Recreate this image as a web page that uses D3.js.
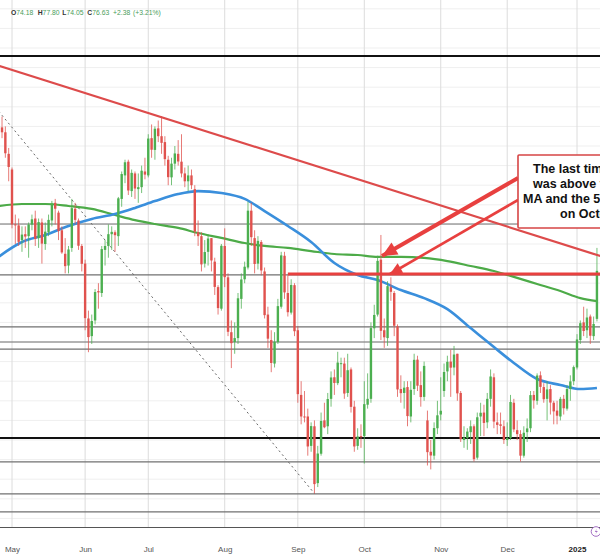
<!DOCTYPE html>
<html><head><meta charset="utf-8">
<script src="https://cdn.jsdelivr.net/npm/d3@7/dist/d3.min.js"></script>
<style>html,body{margin:0;padding:0;background:#fff;overflow:hidden}svg{display:block;font-family:"Liberation Sans",Arial,sans-serif}</style>
</head><body><svg id="c" width="600" height="560"></svg>
<script>
// ---------- DATA ----------
const firstDay = "2024-04-25", lastDay = "2025-01-10";
const holidays = ["2024-05-27","2024-06-19","2024-09-02","2024-11-28","2024-12-25","2025-01-01"];
// [open, high, low, close] per trading day
const ohlcApr = [[82.8,83.8,82.3,83.57],[83.95,84.5,83.4,83.7],[83.7,84.0,82.4,82.63],[82.6,82.9,81.2,81.93]];
const ohlcMay = [[81.8,81.9,78.8,79.0],[79.0,79.5,78.0,78.95],[78.95,79.3,77.9,78.11],[78.2,78.9,77.6,78.48],[78.5,78.9,77.8,78.38],[78.4,79.1,77.3,78.99],[78.99,79.5,78.7,79.26],[79.3,79.7,77.9,78.26],[78.3,79.3,77.8,79.12],[79.1,79.3,77.0,78.02],[78.0,79.1,77.7,78.63],[78.6,79.5,78.4,79.23],[79.2,80.2,78.9,80.06],[80.1,80.3,79.0,79.80],[79.6,79.7,78.2,78.66],[78.7,78.9,77.5,77.57],[77.5,78.3,76.5,76.87],[76.9,77.9,76.5,77.72],[77.8,80.3,77.6,79.83],[79.8,80.1,79.0,79.23],[79.2,79.3,77.7,77.91],[77.9,78.0,76.6,76.99]];
const ohlcJun = [[77.0,77.2,73.6,74.22],[74.2,74.6,72.48,73.25],[73.3,74.4,72.9,74.07],[74.1,75.7,73.9,75.55],[75.6,76.0,74.7,75.53],[75.5,77.9,75.3,77.74],[77.7,78.2,76.9,77.90],[77.9,79.0,77.3,78.50],[78.5,78.9,77.7,78.62],[78.6,78.7,77.6,78.45],[78.4,80.4,77.9,80.33],[80.3,81.7,79.9,81.57],[81.5,82.3,81.1,82.17],[82.2,82.3,80.5,80.73],[80.7,81.8,80.4,81.63],[81.6,81.7,80.3,80.83],[80.8,81.6,80.1,80.90],[80.9,82.0,80.6,81.74],[81.7,82.4,81.3,81.54]];
const ohlcJul = [[81.5,83.6,81.4,83.38],[83.4,84.1,82.4,82.81],[82.8,84.0,82.3,83.88],[83.9,84.3,83.2,83.50],[83.5,84.52,82.6,83.16],[83.2,83.5,82.0,82.33],[82.3,82.5,81.0,81.41],[81.4,82.4,81.0,82.10],[82.1,83.0,81.8,82.62],[82.6,83.3,82.0,82.21],[82.2,83.6,81.4,81.6],[81.6,81.9,80.9,81.2],[81.2,82.0,80.7,81.5],[81.5,81.8,80.8,81.0],[80.8,81.0,78.4,78.63],[78.6,79.2,77.9,78.40],[78.4,78.6,76.6,76.96],[77.0,78.2,76.8,77.59],[77.6,78.5,76.9,78.28],[78.3,78.3,76.6,77.16],[77.1,77.3,75.4,75.81],[75.8,75.9,74.4,74.73],[74.7,78.0,74.6,77.91]];
const ohlcAug = [[77.9,78.8,75.8,76.31],[76.3,76.5,73.3,73.52],[73.5,74.1,71.67,72.94],[73.0,74.0,72.4,73.20],[73.2,75.5,72.9,75.23],[75.2,76.5,74.7,76.19],[76.2,77.1,76.0,76.84],[76.8,80.15,76.7,79.70],[79.7,80.1,77.9,78.35],[78.3,78.7,76.5,76.98],[77.0,78.4,76.7,78.16],[78.1,78.2,76.4,76.65],[76.6,76.8,74.2,74.37],[74.4,74.8,72.7,73.17],[73.1,73.6,71.46,71.93],[71.9,73.5,71.7,73.01],[73.0,75.2,72.9,74.83],[74.8,77.6,74.7,77.42],[77.4,77.6,75.2,75.53],[75.5,76.4,74.3,74.52],[74.5,76.2,74.4,75.91],[75.9,76.0,73.3,73.55]];
const ohlcSep = [[73.6,73.8,69.9,70.34],[70.3,71.0,68.8,69.20],[69.2,70.5,68.9,69.15],[69.2,69.6,67.2,67.67],[67.7,68.9,67.4,68.71],[68.7,69.0,65.27,65.75],[65.8,67.7,65.6,67.31],[67.3,69.4,67.2,68.97],[69.0,69.9,68.6,68.65],[68.7,70.4,68.3,70.09],[70.1,71.5,69.7,71.19],[71.2,71.6,70.3,70.91],[70.9,72.5,70.8,71.95],[71.9,72.2,71.2,71.92],[71.9,72.2,70.1,70.37],[70.4,72.4,70.2,71.56],[71.6,71.7,69.4,69.69],[69.7,70.0,67.4,67.67],[67.7,68.6,67.5,68.18],[68.2,68.8,67.6,68.17]];
const ohlcOct = [[68.2,71.0,66.8,69.83],[69.8,71.4,69.6,70.10],[70.1,74.0,69.9,73.71],[73.7,74.9,73.2,74.38],[74.4,77.4,74.3,77.14],[77.2,78.46,73.1,73.57],[73.6,74.2,72.7,73.24],[73.2,76.1,72.8,75.85],[75.8,76.3,75.1,75.56],[75.5,75.6,73.3,73.83],[73.8,73.9,70.2,70.58],[70.6,71.3,69.9,70.39],[70.4,71.0,69.6,70.67],[70.7,71.0,68.7,69.22],[69.2,71.0,68.9,70.56],[70.6,72.4,70.3,72.09],[72.1,72.3,70.5,70.77],[70.8,71.5,69.7,70.19],[70.2,72.0,70.0,71.78],[69.0,69.5,66.7,67.38],[67.4,68.0,66.5,67.21],[67.2,68.9,67.0,68.61],[68.6,70.0,68.3,69.26]];
const ohlcNov = [[69.3,71.2,69.0,69.49],[70.5,71.9,70.2,71.47],[71.5,72.3,71.0,71.99],[72.0,72.6,70.2,71.69],[71.7,72.8,71.3,72.36],[72.4,72.4,70.0,70.38],[70.4,70.5,67.9,68.04],[68.0,68.7,67.6,68.12],[68.1,68.6,67.5,68.43],[68.4,69.0,67.8,68.70],[68.7,68.8,66.9,67.02],[67.1,69.4,67.0,69.16],[69.2,69.9,68.2,69.39],[69.4,69.8,68.2,68.87],[68.9,70.4,68.6,70.10],[70.1,71.6,69.7,71.24],[71.2,71.4,68.6,68.94],[68.9,69.4,68.3,68.77],[68.8,69.4,68.3,68.72],[68.7,69.0,67.8,68.00]];
const ohlcDec = [[68.0,68.9,67.7,68.10],[68.1,70.3,68.0,69.94],[69.9,70.1,68.4,68.54],[68.5,69.0,68.0,68.30],[68.3,68.5,66.9,67.20],[67.2,68.7,67.1,68.37],[68.4,69.1,67.9,68.59],[68.6,70.5,68.4,70.29],[70.3,70.5,69.6,70.02],[70.0,71.4,69.8,71.29],[71.3,71.5,70.4,70.71],[70.7,70.9,69.9,70.08],[70.1,71.0,69.0,70.58],[70.6,70.8,69.3,69.91],[69.9,70.0,68.8,69.46],[69.5,70.0,68.8,69.24],[69.2,70.2,69.0,70.10],[70.1,70.3,69.3,69.62],[69.6,70.8,69.5,70.60],[70.6,71.3,70.0,70.99],[71.0,71.8,70.8,71.72]];
const ohlcJan = [[71.7,73.4,71.6,73.13],[73.1,74.1,72.9,73.96],[74.0,74.8,73.3,73.56],[73.6,74.7,73.2,74.25],[74.3,74.4,72.9,73.32],[73.3,74.3,73.1,73.92],[74.18,77.80,74.05,76.63]];

// moving averages, sampled from the chart
const maDates = ["2024-04-25","2024-05-06","2024-05-15","2024-05-24","2024-06-05","2024-06-14","2024-06-25","2024-07-03","2024-07-12","2024-07-22","2024-07-31","2024-08-09","2024-08-19","2024-08-28","2024-09-09","2024-09-18","2024-09-27","2024-10-07","2024-10-16","2024-10-25","2024-11-05","2024-11-14","2024-11-25","2024-12-04","2024-12-13","2024-12-24","2025-01-03","2025-01-10"];
const ma100 = [77.35,78.1,78.46,78.92,79.28,79.53,79.84,80.19,80.55,80.70,80.60,80.30,79.68,78.92,78.10,77.03,76.42,76.16,75.65,75.24,74.68,73.71,72.74,71.93,71.11,70.81,70.60,70.65];
const ma200 = [79.94,80.04,80.04,79.94,79.79,79.48,79.22,79.02,78.82,78.56,78.31,78.05,77.90,77.80,77.64,77.49,77.44,77.34,77.34,77.29,77.13,76.88,76.62,76.32,75.96,75.60,75.24,75.09];

// drawn levels / lines
const levelsBlack = [87.59, 68.10];
const levelsGray = [79.02, 76.42, 73.77, 73.00, 72.64, 66.88, 65.25, 64.33];
const trendDates = ["2024-04-25","2025-01-10"], trendValues = [87.10, 77.44];
const dottedDates = ["2024-04-25","2024-09-10"], dottedValues = [84.77, 65.27];
const redLevelStart = "2024-08-28", redLevel = 76.47;
const header = [["O","74.18"],["H","77.80"],["L","74.05"],["C","76.63"],["","+2.38"],["","(+3.21%)"]];
const noteLines = ["The last time the price","was above the 200 day","MA and the 50% midpoint","on October 8"];

// ---------- BUILD ----------
const fmt = d3.utcFormat("%Y-%m-%d");
const dates = [];
for (let d = new Date(firstDay+"T00:00:00Z"); d <= new Date(lastDay+"T00:00:00Z"); d = new Date(d.getTime()+864e5)) {
  const wd = d.getUTCDay();
  if (wd === 0 || wd === 6 || holidays.includes(fmt(d))) continue;
  dates.push(new Date(d));
}
const allOhlc = [].concat(ohlcApr, ohlcMay, ohlcJun, ohlcJul, ohlcAug, ohlcSep, ohlcOct, ohlcNov, ohlcDec, ohlcJan);
const bars = dates.map((d,i) => ({date:d, i, o:allOhlc[i][0], h:allOhlc[i][1], l:allOhlc[i][2], c:allOhlc[i][3]}));
const idxOf = new Map(bars.map(b => [fmt(b.date), b.i]));

const W = 600, H = 560, plotBottom = 527;
const x = d3.scaleLinear().domain([idxOf.get("2024-05-01"), idxOf.get("2025-01-02")]).range([12, 577]);
const y = d3.scaleLinear().domain([64, 88]).range([48 + 24*19.6, 48]);

const svg = d3.select("#c");
svg.append("defs").append("clipPath").attr("id","plot").append("rect").attr("x",0).attr("y",0).attr("width",W).attr("height",plotBottom);
const g = svg.append("g").attr("clip-path","url(#plot)");

// month ticks
const monthTicks = bars.filter((b,k) => k>0 && b.date.getUTCMonth() !== bars[k-1].date.getUTCMonth()).map(b => b.i);
const monthLabel = i => { const d = bars[i].date; return d.getUTCMonth()===0 ? d3.utcFormat("%Y")(d) : d3.utcFormat("%b")(d); };

// grid
g.selectAll(".hg").data(d3.range(63, 91)).join("line")
  .attr("x1",0).attr("x2",W).attr("y1",d=>y(d)).attr("y2",d=>y(d))
  .attr("stroke","#efefef").attr("stroke-width",1);
g.selectAll(".vg").data(monthTicks).join("line")
  .attr("x1",d=>x(d)).attr("x2",d=>x(d)).attr("y1",0).attr("y2",plotBottom)
  .attr("stroke","#dcdcdc").attr("stroke-width",1);

// levels
g.selectAll(".lg").data(levelsGray).join("line")
  .attr("x1",0).attr("x2",W).attr("y1",d=>y(d)).attr("y2",d=>y(d))
  .attr("stroke","#707070").attr("stroke-width",1.2);
g.selectAll(".lb").data(levelsBlack).join("line")
  .attr("x1",0).attr("x2",W).attr("y1",d=>y(d)).attr("y2",d=>y(d))
  .attr("stroke","#111").attr("stroke-width",2);

// dotted line
g.append("line")
  .attr("x1",x(idxOf.get(dottedDates[0]))).attr("y1",y(dottedValues[0]))
  .attr("x2",x(idxOf.get(dottedDates[1]))).attr("y2",y(dottedValues[1]))
  .attr("stroke","#666").attr("stroke-width",1).attr("stroke-dasharray","2,3");

// moving averages
const maLine = vals => d3.line().curve(d3.curveMonotoneX).x((d,k)=>x(idxOf.get(maDates[k]))).y(d=>y(d))(vals);
g.append("path").attr("d",maLine(ma200)).attr("fill","none").attr("stroke","#4dab48").attr("stroke-width",2.2);
g.append("path").attr("d",maLine(ma100)).attr("fill","none").attr("stroke","#3a8fdc").attr("stroke-width",2.6);

// candles
const GREEN = "#4caf50", RED = "#e0524e";
const cg = g.append("g");
cg.selectAll("line").data(bars).join("line")
  .attr("x1",d=>x(d.i)).attr("x2",d=>x(d.i)).attr("y1",d=>y(d.h)).attr("y2",d=>y(d.l))
  .attr("stroke",d=>d.c>=d.o?GREEN:RED).attr("stroke-width",0.9).attr("opacity",0.85);
cg.selectAll("rect").data(bars).join("rect")
  .attr("x",d=>x(d.i)-1.2).attr("width",2.4)
  .attr("y",d=>y(Math.max(d.o,d.c))).attr("height",d=>Math.max(1,Math.abs(y(d.o)-y(d.c))))
  .attr("fill",d=>d.c>=d.o?GREEN:RED);

// trend line (extended)
const ta = idxOf.get(trendDates[0]), tb = idxOf.get(trendDates[1]);
const slope = (trendValues[1]-trendValues[0])/(tb-ta);
const tVal = i => trendValues[0] + slope*(i-ta);
g.append("line").attr("x1",x(ta-3)).attr("y1",y(tVal(ta-3))).attr("x2",x(tb+5)).attr("y2",y(tVal(tb+5)))
  .attr("stroke","#dd4b4b").attr("stroke-width",2.2);

// red horizontal level
g.append("line").attr("x1",x(idxOf.get(redLevelStart))).attr("x2",x(tb+5)).attr("y1",y(redLevel)).attr("y2",y(redLevel))
  .attr("stroke","#e8403f").attr("stroke-width",3);

// annotation arrows
function arrow(x1,y1,x2,y2,w,len,half){
  g.append("line").attr("x1",x1).attr("y1",y1).attr("x2",x2).attr("y2",y2).attr("stroke","#e8403f").attr("stroke-width",w);
  const a = Math.atan2(y2-y1,x2-x1);
  const bx = x2 - len*Math.cos(a), by = y2 - len*Math.sin(a);
  const pts = [[x2,y2],[bx + half*Math.sin(a), by - half*Math.cos(a)],[bx - half*Math.sin(a), by + half*Math.cos(a)]];
  g.append("polygon").attr("points",pts.map(p=>p.join(",")).join(" ")).attr("fill","#e8403f");
}
arrow(518,178,382,256,4,15,7);
arrow(518,200,390,274,2.6,12,5.5);

// annotation box
g.append("rect").attr("x",518).attr("y",155).attr("width",200).attr("height",73)
  .attr("fill","#fff").attr("stroke","#d64545").attr("stroke-width",1.6).attr("rx",1);
const noteX = [533, 533, 523, 560], noteY = [173, 188, 203, 218];
g.selectAll(".note").data(noteLines).join("text")
  .attr("x",(d,k)=>noteX[k]).attr("y",(d,k)=>noteY[k])
  .attr("font-size",12.5).attr("font-weight","bold").attr("fill","#111").text(d=>d);

// bottom axis
svg.append("line").attr("x1",0).attr("x2",W).attr("y1",plotBottom+0.5).attr("y2",plotBottom+0.5).attr("stroke","#555").attr("stroke-width",1);
const axis = d3.axisBottom(x).tickValues(monthTicks).tickFormat(monthLabel).tickSize(0).tickPadding(0);
const ax = svg.append("g").attr("transform",`translate(0,${plotBottom+25})`).call(axis);
ax.select(".domain").remove();
ax.selectAll("text").attr("font-size",8).attr("dy",0)
  .attr("font-family","Liberation Sans, Arial, sans-serif")
  .attr("font-weight",(d)=>bars[d].date.getUTCMonth()===0?"bold":"normal")
  .attr("fill",(d)=>bars[d].date.getUTCMonth()===0?"#222":"#555");

// event icon
svg.append("circle").attr("cx",596).attr("cy",531.5).attr("r",4.8).attr("fill","#fff").attr("stroke","#a46fc4").attr("stroke-width",1);
svg.append("path").attr("d","M597,528.5 L594.8,532 L596.6,532 L595.2,534.8 L597.8,531 L596,531 Z").attr("fill","#a46fc4");

// header
const hx = [11, 37.7, 62.3, 87.3, 113, 133];
const ht = svg.append("g").attr("font-size",6.8);
header.forEach((h,k)=>{
  const t = ht.append("text").attr("x",hx[k]).attr("y",15);
  if (h[0]) t.append("tspan").attr("fill","#333").attr("font-weight","bold").text(h[0]);
  t.append("tspan").attr("fill","#4a9d5b").text(h[1]);
});
</script></body></html>
